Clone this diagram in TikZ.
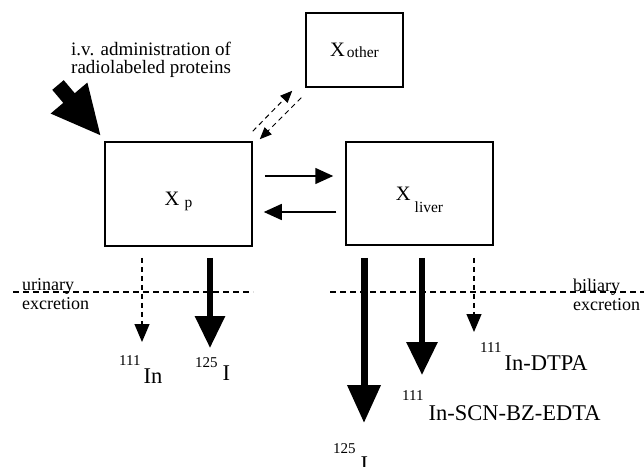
\documentclass[tikz,border=0pt]{standalone}
\usepackage{fontspec}
\setmainfont{Liberation Serif}
\usetikzlibrary{arrows.meta}
\newcommand{\fsz}[2]{\fontsize{#1}{#2}\selectfont}
\newcommand{\iso}[4]{\raisebox{#1}{\fsz{15}{15}#2}\hspace{#3}#4}

\begin{document}
\begin{tikzpicture}[x=1pt, y=-1pt,
    comp/.style={draw, line width=1.5pt, inner sep=0pt, text depth=0pt},
    lbl/.style={inner sep=0pt, anchor=base west, font=\fsz{22.5}{24}},
    note/.style={inner sep=0pt, anchor=north west, align=left},
    flow/.style={line width=1.5pt, -{Triangle[length=18pt,width=16pt]}},
    dflow/.style={line width=1.2pt, dash pattern=on 5pt off 4pt, -{Triangle[length=18pt,width=15pt]}},
    sep/.style={line width=1.5pt, dash pattern=on 6pt off 4pt}]
        \useasboundingbox (0,0) rectangle (644,466);

        % Compartimenti
        \node[comp, minimum width=147pt, minimum height=104pt, text height=22pt] (Xp) at (178.5,194)
            {\fsz{20.5}{20}X\hspace{5pt}\raisebox{-2pt}{\fsz{15.5}{15}p}};
        \node[comp, minimum width=147pt, minimum height=103pt, text height=13pt] (Xliver) at (419.5,193.5)
            {\fsz{20.5}{20}X\hspace{4pt}\raisebox{-12pt}{\fsz{15.5}{15}liver}};
        \node[comp, minimum width=97pt, minimum height=74pt, text height=12pt] (Xother) at (354.5,50)
            {\fsz{20.5}{20}X\hspace{2pt}\raisebox{-1.5pt}{\fsz{15.5}{15}other}};

        % Testi
        \node[note, font=\fsz{19}{18}] (iv) at (71,42) {i.v. administration of\\radiolabeled proteins};
        \node[note, font=\fsz{18}{19}] (urin) at (22,278.5) {urinary\\excretion};
        \node[note, font=\fsz{18}{19}] (bili) at (573,278.5) {biliary\\excretion};

        \node[lbl] (In) at (119,383) {\iso{18pt}{111}{3pt}{In}};
        \node[lbl] (Ip) at (195,380) {\iso{13pt}{125}{5pt}{I}};
        \node[lbl] (DTPA) at (480,370) {\iso{18pt}{111}{3pt}{In-DTPA}};
        \node[lbl] (SCN) at (402,420) {\iso{20pt}{111}{5pt}{In-SCN-BZ-EDTA}};
        \node[lbl] (Il) at (333,471) {\iso{18pt}{125}{5pt}{I}};

        % Punte libere
        \coordinate (ivtail) at (58,85);
        \coordinate (tipIn) at (142,342);
        \coordinate (tipIp) at (210,348);
        \coordinate (tipIl) at (364,423);
        \coordinate (tipSCN) at (422,375);
        \coordinate (tipDTPA) at (474,332);

        % Linee di escrezione
        \draw[sep] (13,292) -- (253,292);
        \draw[sep] (330,292) -- (644,292);

        % Collegamenti
        \draw[line width=15pt, -{Triangle[length=50pt,width=44pt]}] (ivtail) -- ([xshift=-3pt,yshift=5pt]Xp.north west);
        \draw[flow] ([xshift=12pt,yshift=18pt]Xp.east) -- ([xshift=-12pt,yshift=17.5pt]Xliver.west);
        \draw[flow] ([xshift=-9pt,yshift=-18.5pt]Xliver.west) -- ([xshift=11pt,yshift=-18pt]Xp.east);
        \draw[dflow, line width=1pt, -{Triangle[length=12pt,width=10pt]}] ([yshift=10pt]Xp.north east) -- ([xshift=-13pt,yshift=-3pt]Xother.south west);
        \draw[dflow, line width=1pt, -{Triangle[length=12pt,width=10pt]}] ([xshift=-4pt,yshift=-10pt]Xother.south west) -- ([xshift=7pt,yshift=2pt]Xp.north east);

        \draw[dflow] ([xshift=-36.5pt,yshift=-11pt]Xp.south) -- (tipIn);
        \draw[line width=6pt, -{Triangle[length=32pt,width=29pt]}] ([xshift=31.5pt,yshift=-11pt]Xp.south) -- (tipIp);
        \draw[line width=7pt, -{Triangle[length=38pt,width=32pt]}] ([xshift=-55.5pt,yshift=-12pt]Xliver.south) -- (tipIl);
        \draw[line width=6pt, -{Triangle[length=33pt,width=30pt]}] ([xshift=2.5pt,yshift=-12pt]Xliver.south) -- (tipSCN);
        \draw[dflow] ([xshift=54.5pt,yshift=-12pt]Xliver.south) -- (tipDTPA);
    \end{tikzpicture}
\end{document}
